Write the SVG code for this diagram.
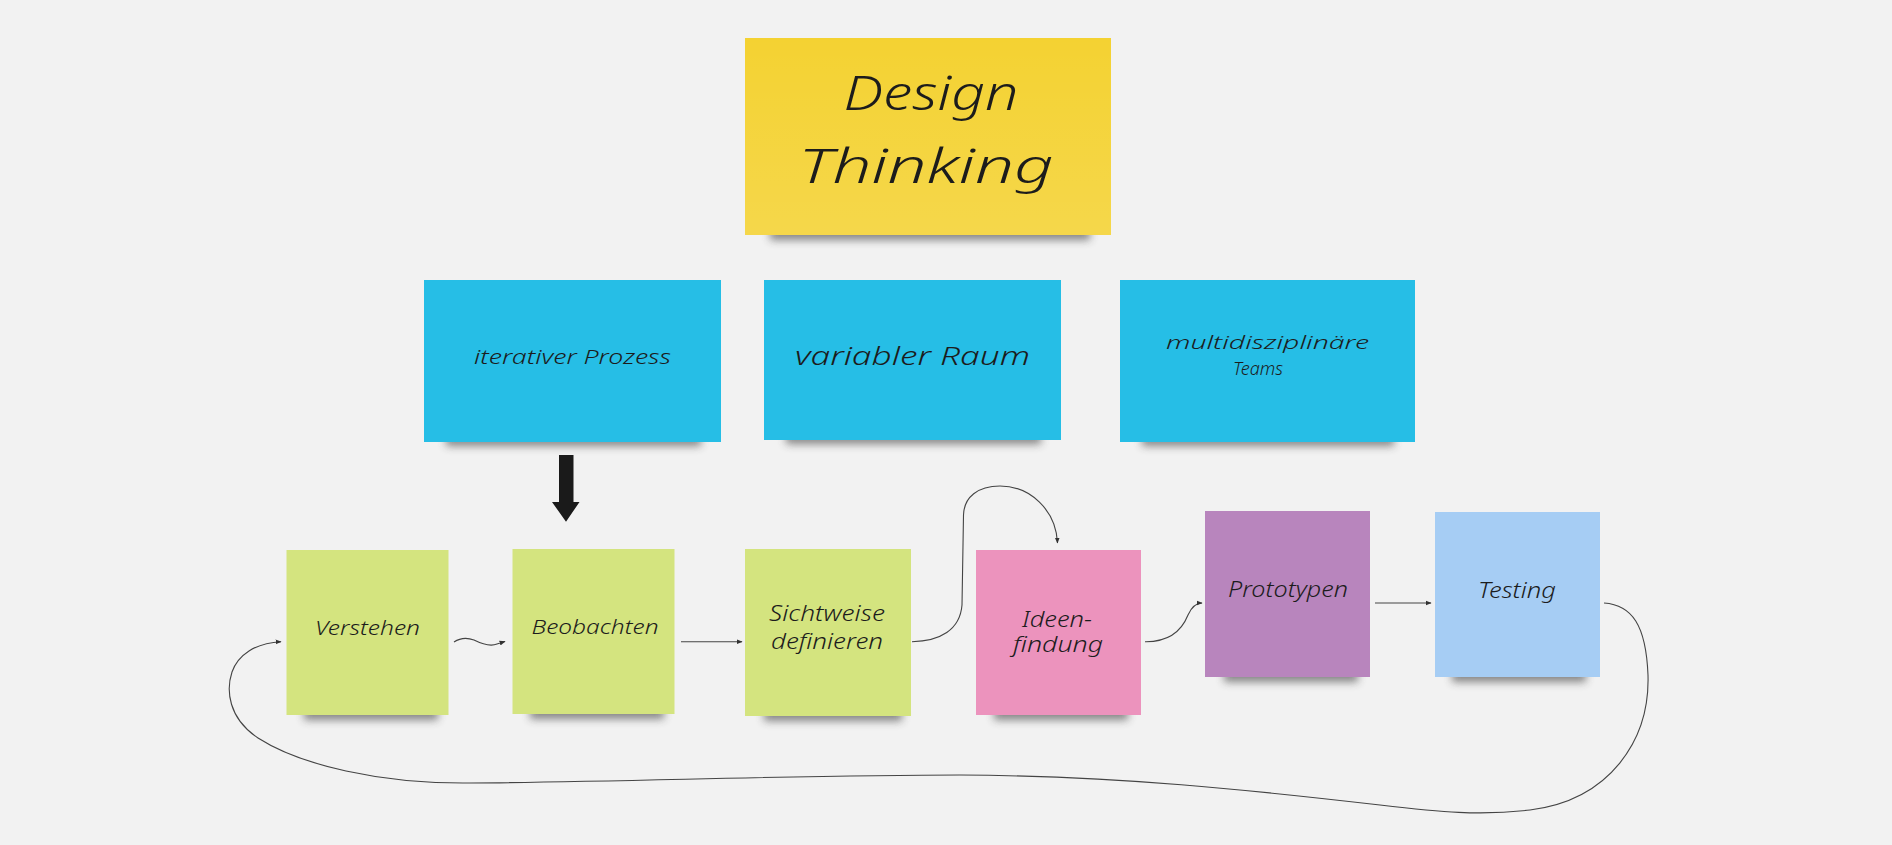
<svg xmlns="http://www.w3.org/2000/svg" width="1892" height="845" viewBox="0 0 1892 845">
<defs>
<filter id="sh" x="-20%" y="-100%" width="140%" height="300%"><feGaussianBlur stdDeviation="4"/></filter>
<linearGradient id="gl" x1="0" y1="0" x2="0" y2="1"><stop offset="0" stop-color="#fff" stop-opacity="0"/><stop offset="1" stop-color="#fff" stop-opacity="0.12"/></linearGradient>
<marker id="ah" viewBox="0 0 10 10" refX="9" refY="5" markerWidth="6" markerHeight="6" markerUnits="userSpaceOnUse" orient="auto"><path d="M0,1 L10,5 L0,9 Z" fill="#333"/></marker>
</defs>
<style>
.shadow{fill:#3a3a3a;opacity:.6;filter:url(#sh)}
.t{font-family:"Noto Sans","DejaVu Sans",sans-serif;font-style:italic;font-weight:300;fill:#1c1c1c}
.c{fill:none;stroke:#444;stroke-width:1.1;marker-end:url(#ah)}
.yel{fill:#F4D232}.blu{fill:#26BEE6}.grn{fill:#D4E47F}.pnk{fill:#EC93BD}.pur{fill:#B885BD}.lbl{fill:#A6CDF4}
</style>
<rect width="1892" height="845" fill="#F2F2F2"/>

<g id="design-thinking">
<rect class="shadow" x="770" y="227" width="320" height="13"/>
<rect class="yel" x="745" y="38" width="366" height="197"/>
<rect x="745" y="38" width="366" height="197" fill="url(#gl)"/>
<text class="t" x="843.5" y="110" font-size="48" textLength="175" lengthAdjust="spacingAndGlyphs">Design</text>
<text class="t" x="798.5" y="183" font-size="48" textLength="255" lengthAdjust="spacingAndGlyphs">Thinking</text>
</g>

<g id="iterativer-prozess">
<rect class="shadow" x="446" y="434" width="255" height="12"/>
<rect class="blu" x="424" y="280" width="297" height="162"/>
<text class="t" x="474" y="364" font-size="20" textLength="197" lengthAdjust="spacingAndGlyphs">iterativer Prozess</text>
</g>

<g id="variabler-raum">
<rect class="shadow" x="786" y="432" width="255" height="12"/>
<rect class="blu" x="764" y="280" width="297" height="160"/>
<text class="t" x="795" y="365" font-size="25" textLength="235" lengthAdjust="spacingAndGlyphs">variabler Raum</text>
</g>

<g id="multidisziplinaere-teams">
<rect class="shadow" x="1142" y="434" width="252" height="12"/>
<rect class="blu" x="1120" y="280" width="295" height="162"/>
<text class="t" x="1166" y="349" font-size="19" textLength="203" lengthAdjust="spacingAndGlyphs">multidisziplinäre</text>
<text class="t" x="1233" y="375" font-size="19" textLength="50" lengthAdjust="spacingAndGlyphs">Teams</text>
</g>

<g id="verstehen">
<rect class="shadow" x="304" y="707" width="134" height="13"/>
<rect class="grn" x="286.5" y="550" width="162" height="165"/>
<text class="t" x="315" y="635" font-size="20" textLength="105" lengthAdjust="spacingAndGlyphs">Verstehen</text>
</g>

<g id="beobachten">
<rect class="shadow" x="530" y="706" width="134" height="13"/>
<rect class="grn" x="512.5" y="549" width="162" height="165"/>
<text class="t" x="531.5" y="634" font-size="20" textLength="127" lengthAdjust="spacingAndGlyphs">Beobachten</text>
</g>

<g id="sichtweise-definieren">
<rect class="shadow" x="764" y="708" width="138" height="13"/>
<rect class="grn" x="745" y="549" width="166" height="167"/>
<text class="t" x="769" y="621" font-size="21" textLength="116" lengthAdjust="spacingAndGlyphs">Sichtweise</text>
<text class="t" x="771" y="649" font-size="21" textLength="112" lengthAdjust="spacingAndGlyphs">definieren</text>
</g>

<g id="ideenfindung">
<rect class="shadow" x="994" y="707" width="134" height="13"/>
<rect class="pnk" x="976" y="550" width="165" height="165"/>
<text class="t" x="1022" y="627" font-size="21" textLength="70" lengthAdjust="spacingAndGlyphs">Ideen-</text>
<text class="t" x="1013" y="652" font-size="21" textLength="90" lengthAdjust="spacingAndGlyphs">findung</text>
</g>

<g id="prototypen">
<rect class="shadow" x="1224" y="669" width="134" height="13"/>
<rect class="pur" x="1205" y="511" width="165" height="166"/>
<text class="t" x="1228" y="597" font-size="21" textLength="120" lengthAdjust="spacingAndGlyphs">Prototypen</text>
</g>

<g id="testing">
<rect class="shadow" x="1452" y="669" width="134" height="13"/>
<rect class="lbl" x="1435" y="512" width="165" height="165"/>
<text class="t" x="1478" y="598" font-size="21" textLength="78" lengthAdjust="spacingAndGlyphs">Testing</text>
</g>

<g id="connectors">
<path d="M559,455 H573.5 V502 H579.5 L566,521.7 L552,502 H559 Z" fill="#1a1a1a"/>
<path class="c" d="M454,642 C460,638 466,637 474,640 C482,644 490,647 497,644 L505,641.5"/>
<path class="c" d="M681,641.7 L742,641.7"/>
<path class="c" d="M912,641.7 C940,641 960,630 962,605 L963.5,515 C964,497 978,486 1000,486 C1030,486 1056,510 1057.5,543"/>
<path class="c" d="M1145,641.7 C1170,642 1182,630 1188,615 C1192,606 1196,603 1202,603"/>
<path class="c" d="M1375,603 L1431,603"/>
<path class="c" d="M1604,603 C1632,605 1646,625 1648,675 C1650,740 1610,800 1530,810 C1480,816 1440,812 1380,805 C1250,790 1120,776 960,775 C800,775 620,782 470,783 C380,784 300,765 258,738 C228,718 226,690 232,672 C238,655 255,643 281,641.7"/>
</g>
</svg>
